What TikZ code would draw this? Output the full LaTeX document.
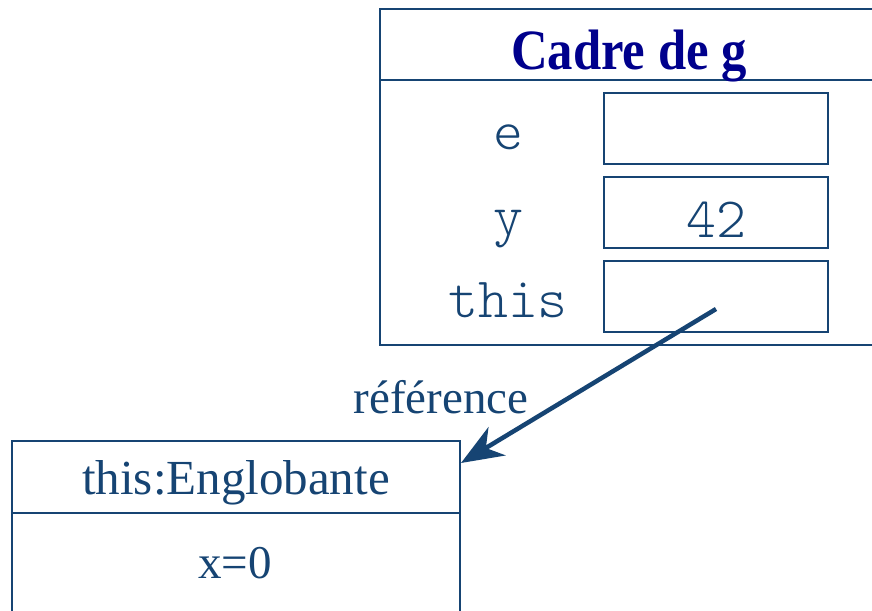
\documentclass[tikz,border=0pt]{standalone}
\usepackage{fontspec}
\setmainfont{Liberation Serif}
\setmonofont{Latin Modern Mono Light}
\newfontfamily\titlefont[FakeStretch=0.89]{Liberation Serif}
\usetikzlibrary{arrows.meta}
\definecolor{linec}{RGB}{22,68,115}
\definecolor{titlec}{RGB}{0,0,140}
\tikzset{
  box/.style={draw=linec, line width=2pt, rectangle, inner sep=0pt},
  cell/.style={box, minimum width=224pt, minimum height=71pt},
  monolbl/.style={text=linec, anchor=base, inner sep=0pt, font=\ttfamily\fontsize{57}{60}\selectfont},
  serlbl/.style={text=linec, anchor=base, inner sep=0pt, font=\fontsize{49}{56}\selectfont},
  refarrow/.style={draw=linec, line width=4.5pt, -{Stealth[length=42pt,width=33pt,inset=13pt]}}
}
\begin{document}
\begin{tikzpicture}[x=1pt,y=-1pt]
\useasboundingbox (0,0) rectangle (872,610);
% frame of g
\node[box, minimum width=500pt, minimum height=336pt] (frame) at (630,177) {};
\coordinate (hl) at (380,80);
\coordinate (hr) at (880,80);
\draw[draw=linec, line width=2pt] (hl) -- (hr);
\node[anchor=base, inner sep=0pt, text=titlec, font=\titlefont\bfseries\fontsize{57}{60}\selectfont] (title) at (629,70) {Cadre de g};
% cells
\node[cell] (ce) at (716,128.5) {};
\node[cell] (cy) at (716,212.5) {};
\node[cell] (ct) at (716,296.5) {};
\node[monolbl] (le) at (508,149) {e};
\node[monolbl] (ly) at (508,234) {y};
\node[monolbl] (lt) at (508,317) {this};
\node[monolbl] (v42) at (716,237) {42};
% object box
\node[box, minimum width=448pt, minimum height=179pt] (eng) at (236,530.5) {};
\coordinate (el) at (12,513);
\coordinate (er) at (460,513);
\draw[draw=linec, line width=2pt] (el) -- (er);
\node[serlbl] (engname) at (236,494) {this:Englobante};
\node[serlbl, font=\fontsize{47}{54}\selectfont] (xval) at (235,578) {x=0};
% reference arrow
\coordinate (src) at (716,309);
\coordinate (tip) at (461,463);
\draw[refarrow] (src) -- (tip);
\node[serlbl, font=\fontsize{47}{54}\selectfont] (reflbl) at (441,413) {référence};
\end{tikzpicture}
\end{document}
